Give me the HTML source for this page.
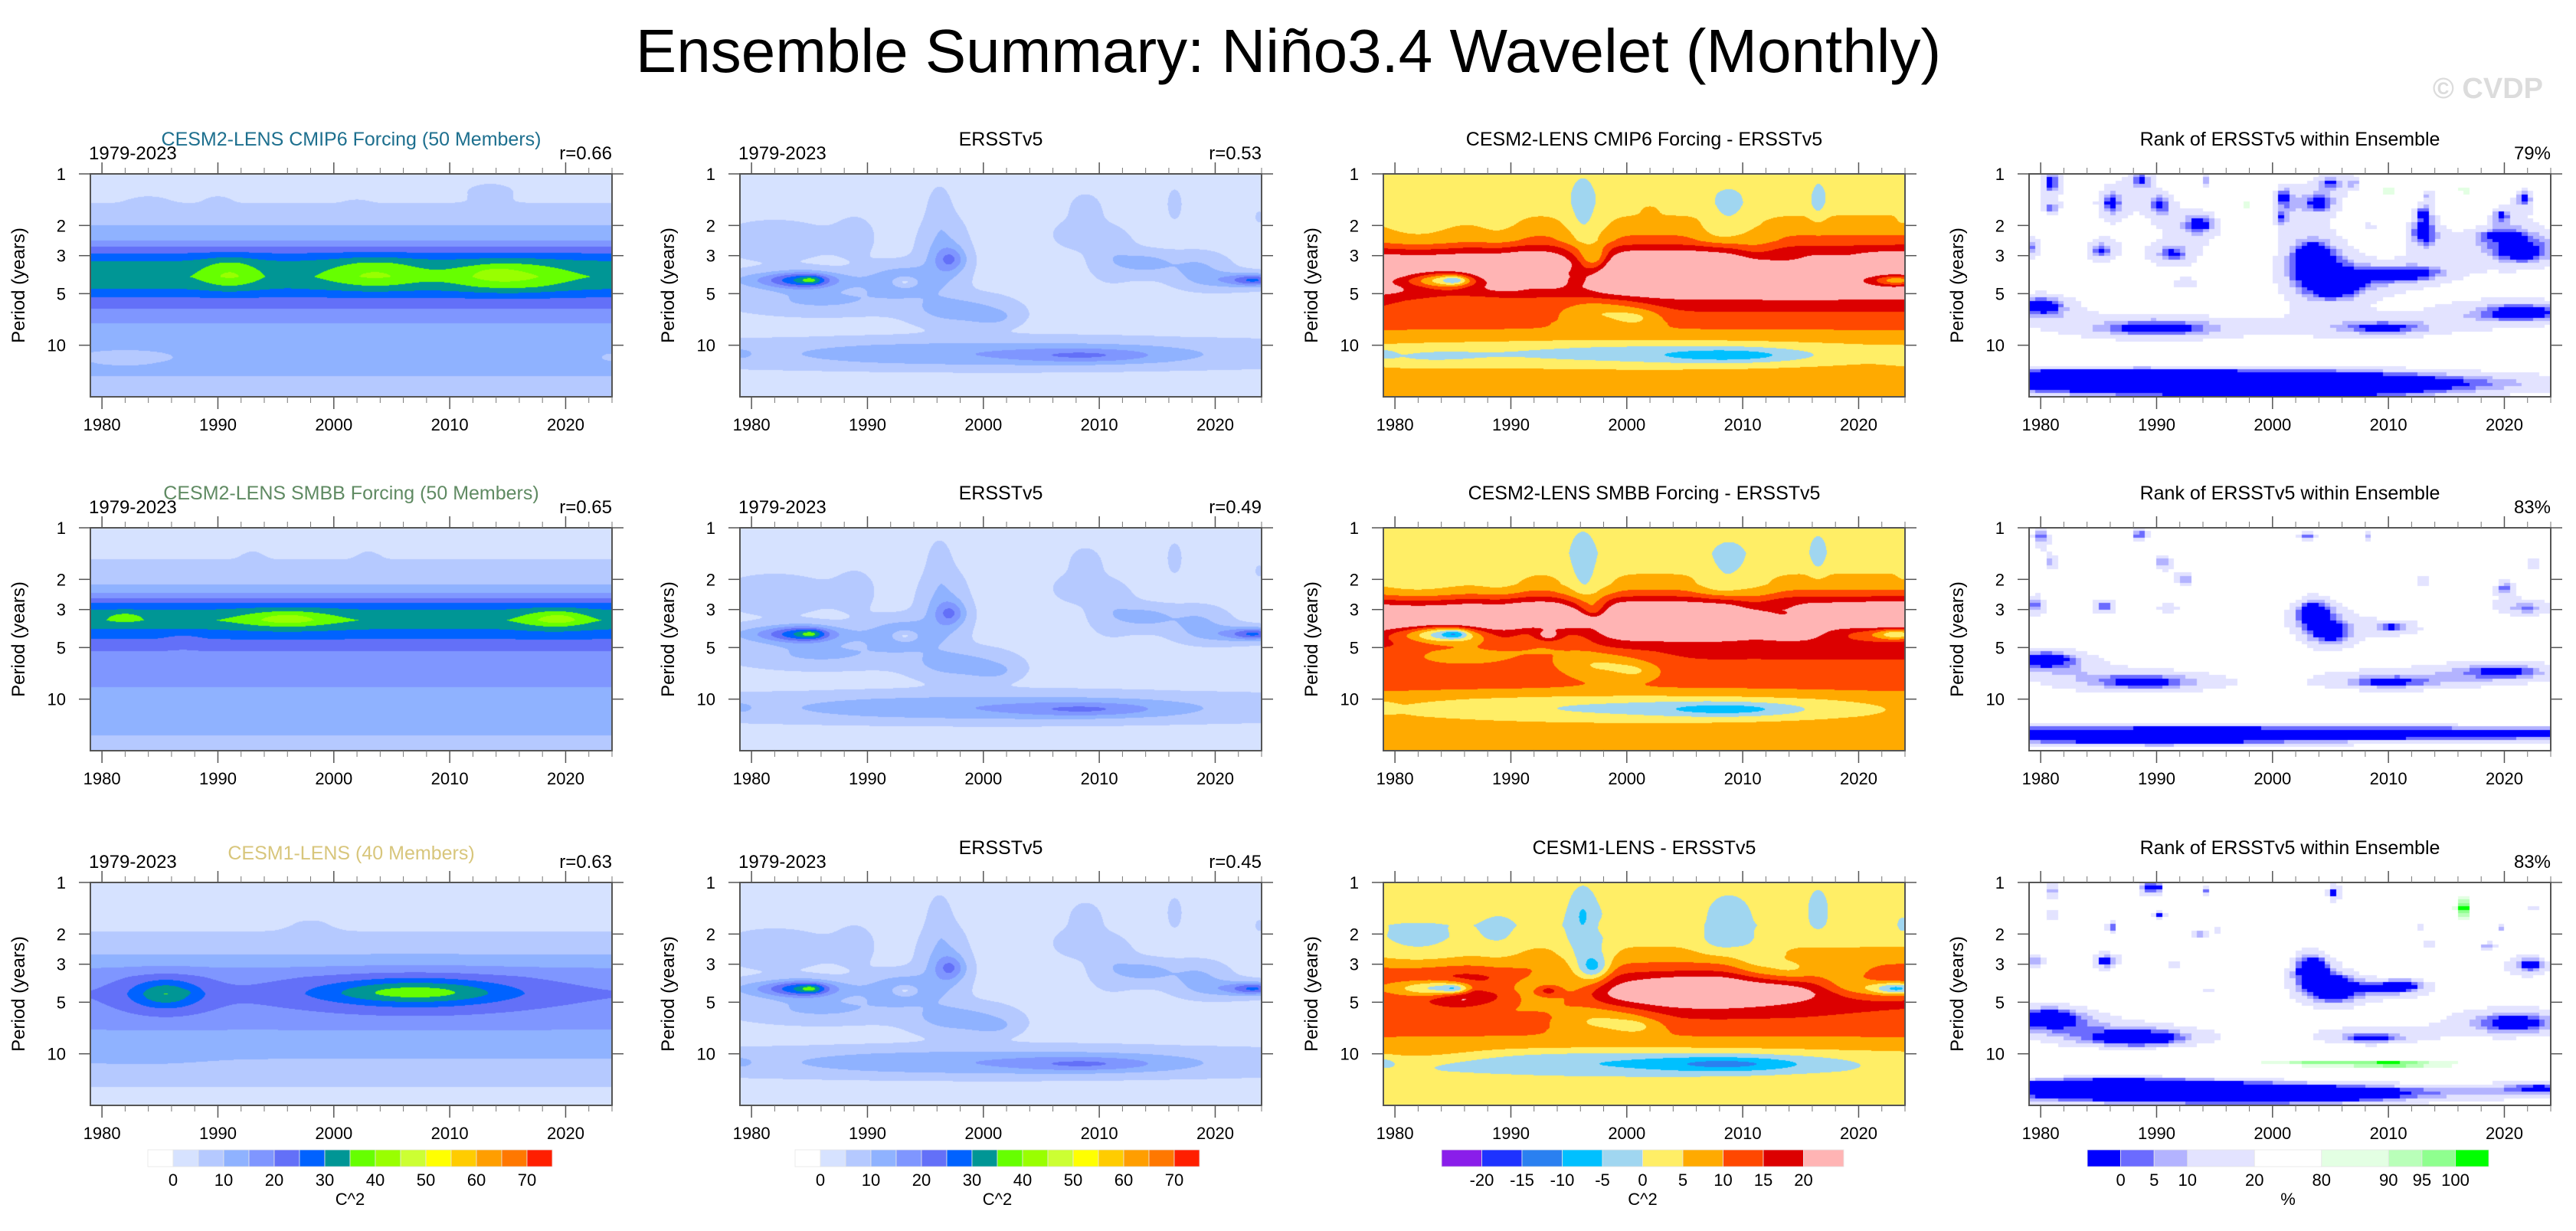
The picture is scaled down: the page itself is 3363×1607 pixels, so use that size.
<!DOCTYPE html>
<html>
<head>
<meta charset="utf-8">
<style>
html,body{margin:0;padding:0;background:#fff;}
#root{position:relative;width:3363px;height:1607px;overflow:hidden;background:#fff;font-family:"Liberation Sans",sans-serif;}
canvas{position:absolute;}
#overlay{position:absolute;left:0;top:0;}
</style>
</head>
<body>
<div id="root">
<svg id="overlay" width="3363" height="1607">
  <text x="1682" y="94" text-anchor="middle" font-size="80" font-family="Liberation Sans, sans-serif">Ensemble Summary: Niño3.4 Wavelet (Monthly)</text>
  <text x="3320" y="128" text-anchor="end" font-size="38" font-weight="bold" fill="#dcdcdc" font-family="Liberation Sans, sans-serif">© CVDP</text>
</svg>
</div>
<script>
// ---------------- axis data ----------------
const yearMin = 1979, yearMax = 2024;
const lpMax = Math.log10(20);
const majorYears = [1980, 1990, 2000, 2010, 2020];
const minorYears = [1982,1984,1986,1988,1992,1994,1996,1998,2002,2004,2006,2008,2012,2014,2016,2018,2022,2024];
const periodTicks = [1, 2, 3, 5, 10];

// ---------------- color scales ----------------
const ampLevels = [0,5,10,15,20,25,30,35,40,45,50,55,60,65,70];
const ampColors = ['#ffffff','#d6e2ff','#b5c9ff','#8fb2ff','#7f96ff','#6370f8','#0062ff','#009695','#66ff00','#99ff00','#ccff33','#ffff00','#ffcc00','#ff9e00','#ff7800','#ff1f00'];
const ampLabels = ['0','10','20','30','40','50','60','70'];
const diffLevels = [-20,-15,-10,-5,0,5,10,15,20];
const diffColors = ['#8a1eea','#1e32ff','#2a80f0','#00c0ff','#a0d6f0','#ffee66','#ffaa00','#ff4800','#dc0000','#ffb4b4'];
const diffLabels = ['-20','-15','-10','-5','0','5','10','15','20'];
const rankLevels = [0,5,10,20,80,90,95,100];
const rankColors = ['#0000ff','#6b6bff','#b3b3ff','#e3e3ff','#ffffff','#e3ffe3','#b9ffb9','#8fff8f','#00ff00'];
const rankLabels = ['0','5','10','20','80','90','95','100'];

// ---------------- field data (log10 period profiles + blobs [year, log10P, amp, widthYears, widthLog]) ----------------
const cmip6LpKnots = [0,.12,.17,.3,.39,.44,.48,.52,.6,.66,.7,.74,.8,.87,.95,1.0,1.1,1.17,1.2,1.3];
const cmip6Val     = [3,4,5,10,15,22,27,31,34,31,27,23,19,15,13,12.5,12.5,11,8,7];
const cmip6Blobs = [[1991,.58,7,2.5,.09],[2003.5,.58,7,4,.09],[2015,.6,8,5,.09],[2014,.58,4,1.5,.03],[1982,1.07,-4,6,.06],[2024,1.07,-3,2,.05],[1984,.17,2,1.5,.04],[1990,.17,2,1,.04],[2002,.2,2,1,.04],[2013.5,.1,3,2,.05],[1996,.6,-2,1.5,.05]];

const smbbLpKnots = [0,.15,.2,.33,.38,.41,.44,.48,.54,.59,.65,.72,.8,.93,1.0,1.1,1.21,1.3];
const smbbVal     = [3,4,5.5,10,15,20,25,30,34,30,25,20,18,15,14,13,10,8];
const smbbBlobs = [[1982,.52,5,1.5,.03],[1996,.53,7,4.5,.06],[1996,.53,3,2,.03],[2019,.53,7,3,.06],[2019.5,.53,3,1.5,.03],[1987,.66,-3,1.5,.04],[1993,.17,2,1,.04],[2003,.17,2,1,.04]];

const cesm1LpKnots = [0,.25,.32,.42,.5,.55,.65,.79,.86,.95,1.03,1.12,1.18,1.2,1.3];
const cesm1Val     = [3,4,6,10,15,18,20,18,15,12.5,10,8,6,4.5,3];
const cesm1Blobs = [[1985.5,.65,12,3.5,.1],[1985.5,.65,3,2,.06],[1987,.64,3,.6,.012],[2007,.64,13,9,.1],[2007,.64,5,7,.05],[1983,1.0,3,5,.05],[1998,.26,2,2,.05]];

const ersstLpKnots = [0,.15,.3,.5,.7,.85,.95,1.0,1.1,1.15,1.2,1.3];
const ersstVal     = [2,2.5,3,3.5,4,3.5,4,5.5,5.5,4,2.5,2];
const ersstBlobs = [[1983.5,.62,14,5,.05],[1984.5,.62,12,2.5,.05],[1985.2,.62,9,1,.025],[1993,.62,11,3,.09],[1993.2,.63,-11,1.2,.035],[1997.2,.5,11,1.3,.07],[1996.5,.45,8,2,.22],[1996.2,.18,5,.9,.12],[1986,.74,7,7,.08],[1998,.8,9,4,.08],[2001,.84,5,2,.05],[2014,.52,8,2.5,.07],[2018.5,.55,7,2.5,.09],[2011,.45,5,2,.15],[2023.5,.62,18,2,.035],[2021,.62,8,3,.05],[2008.8,.2,5,1.5,.1],[2008,.35,5,2,.08],[2016.5,.17,5,.7,.1],[2023.8,.25,4,.4,.04],[1982,.38,5,5,.12],[1989,.35,3,2,.15],[2001,1.05,9,20,.08],[2009,1.06,8,6,.04],[1979,1.05,4,1,.03]];

const rankBase = 40;
const rankWidthScale = 1.6;
const rankNegScale = 1.0;
const rankPosScale = 1.4;
const rank1Blobs = [[1980.9,.05,-55,.6,.05],[1986.1,.17,-50,.8,.06],[1980.9,.2,-40,.4,.02],[1988.7,.03,-45,.6,.04],[1990.3,.18,-45,.6,.04],[1994.3,.04,-40,.4,.03],[1993.8,.29,-55,1.2,.05],[1991.4,.47,-45,1.2,.04],[1985.2,.45,-45,.8,.04],[1979.3,.43,-40,.6,.05],[1992.5,.64,-25,1,.03],[2003.5,.5,-70,1.3,.08],[2005.3,.65,-55,1.2,.04],[2012,.58,-45,1.5,.02],[2009.8,.6,-25,3,.06],[2021.5,.46,-55,2,.05],[2019.5,.36,-35,2.5,.04],[2013,.35,-45,.7,.05],[2013,.23,-45,.6,.04],[2008.5,.3,-25,.5,.02],[2000.8,.26,-30,.4,.04],[2000.9,.13,-45,.5,.04],[2004,.17,-50,1,.04],[2005,.05,-45,.8,.03],[2007.1,.05,-40,.4,.03],[2013.5,.12,-45,.5,.03],[2018.5,.03,-40,.3,.03],[2021.7,.14,-50,.6,.04],[2019.7,.24,-45,.6,.03],[1997.8,.18,40,.8,.06],[2010.1,.1,42,1,.06],[2016.6,.1,40,1,.06],[1980,.77,-60,1.5,.04],[1990,.9,-60,4,.04],[2009.6,.9,-45,3,.03],[2021.5,.81,-60,3,.04],[1984,1.06,32,5,.015],[2015,1.06,32,4,.015],[1983,1.19,-65,4,.02],[1990,1.22,-45,8,.04],[2005,1.23,-50,6,.04],[2000,1.25,-40,4,.02],[2000,1.22,-25,30,.04]];
const rank2Blobs = [[1980,.05,-50,.5,.04],[1981,.2,-40,.4,.03],[1988.5,.04,-50,.5,.03],[1990.5,.2,-45,.5,.03],[1992.5,.3,-40,.6,.03],[1996,.22,-35,.5,.03],[2003,.05,-50,.6,.03],[2008.3,.05,-45,.4,.03],[2009,.17,-40,.5,.03],[2013,.3,-45,.5,.03],[2017,.05,-45,.4,.03],[2020,.35,-45,.5,.03],[2022.5,.2,-40,.4,.03],[1979.5,.45,-50,.6,.04],[1985.5,.46,-45,.8,.03],[1991,.47,-30,1,.03],[2003.5,.5,-65,1.2,.06],[2005,.62,-45,1,.04],[2010.5,.58,-45,1.5,.03],[2022,.47,-40,2,.04],[1980.5,.77,-60,2,.04],[1989,.9,-55,4,.04],[2010,.9,-45,3,.03],[2020,.84,-50,3.5,.04],[1998.5,.2,30,1,.08],[2010,.12,32,1,.06],[2016.5,.12,30,.8,.06],[2012,1.07,32,8,.02],[2000,1.2,-55,40,.02],[1990,1.24,-40,6,.02],[2000,1.2,-25,30,.04]];
const rank3Blobs = [[1981,.05,-45,.4,.04],[1989.2,.03,-50,.5,.03],[1990.2,.03,-40,.3,.02],[1994.3,.05,-45,.4,.02],[2005.3,.06,-55,.5,.04],[2007.5,.05,-40,.3,.02],[2013.6,.12,-45,.4,.02],[2018.5,.03,-40,.3,.02],[2022.5,.15,-45,.4,.02],[1981,.2,-45,.3,.02],[1986.2,.26,-45,.4,.03],[1990.3,.19,-45,.4,.02],[1993.6,.3,-45,.6,.02],[1995.3,.28,-40,.3,.02],[2001,.28,-30,.5,.03],[2012.7,.26,-45,.4,.02],[2019.7,.26,-45,.4,.02],[2013.5,.36,-45,.5,.02],[2018.5,.37,-45,.5,.02],[1979.5,.46,-45,.6,.03],[1985.6,.46,-55,.8,.03],[1991.5,.48,-30,.6,.03],[2003.3,.5,-70,1,.06],[2005.3,.62,-60,1,.04],[2009,.62,-30,3,.04],[2011.3,.6,-50,1,.02],[2022.3,.48,-55,1.3,.04],[1994.5,.63,-30,.5,.02],[1980.5,.79,-70,2,.04],[1988.5,.91,-70,3.5,.04],[2008.5,.91,-50,2.5,.03],[2021,.82,-60,3,.05],[1998,.25,35,1,.12],[2010,.15,30,1.5,.1],[2016.5,.15,45,.8,.08],[2016.5,.15,12,.3,.03],[2024,.3,30,.5,.05],[2011,1.06,40,5,.02],[2003,1.05,32,10,.03],[1984,1.06,32,4,.015],[1986,1.19,-70,3.5,.02],[2002,1.24,-70,4,.02],[1990,1.22,-50,7,.04],[2023,1.2,-35,2,.02],[2000,1.22,-25,30,.04]];

// ---------------- panel text data ----------------
const modelTitles = ['CESM2-LENS CMIP6 Forcing (50 Members)','CESM2-LENS SMBB Forcing (50 Members)','CESM1-LENS (40 Members)'];
const modelTitleColors = ['#1d6f8e','#5f8a62','#d8c67c'];
const modelR = ['r=0.66','r=0.65','r=0.63'];
const obsR = ['r=0.53','r=0.49','r=0.45'];
const diffTitles = ['CESM2-LENS CMIP6 Forcing - ERSSTv5','CESM2-LENS SMBB Forcing - ERSSTv5','CESM1-LENS - ERSSTv5'];
const rankPct = ['79%','83%','83%'];

// ---------------- layout ----------------
const colX = [118, 966, 1806, 2649];
const rowY = [227, 689, 1152];
const PW = 681, PH = 291;

function xOf(left, year){ return left + (year - yearMin) / (yearMax - yearMin) * PW; }
function yOf(top, lp){ return top + lp / lpMax * PH; }

function profileAt(knots, vals, lp){
  if (lp <= knots[0]) return vals[0];
  for (let i = 1; i < knots.length; i++){
    if (lp <= knots[i]){ const f = (lp-knots[i-1])/(knots[i]-knots[i-1]); return vals[i-1] + f*(vals[i]-vals[i-1]); }
  }
  return vals[vals.length-1];
}
function blobSum(blobs, t, lp){
  let s = 0;
  for (const b of blobs){ const dt=(t-b[0])/b[3], dl=(lp-b[1])/b[4]; s += b[2]*Math.exp(-dt*dt-dl*dl); }
  return s;
}
// rank blobs use an exponential (Laplacian) kernel: small cores, wider halos
function rankSum(blobs, t, lp){
  let s = 0;
  for (const b of blobs){
    const dt=(t-b[0])/(b[3]*rankWidthScale), dl=(lp-b[1])/(b[4]*rankWidthScale);
    s += (b[2]<0?rankNegScale:rankPosScale)*b[2]*Math.exp(-Math.sqrt(dt*dt+dl*dl));
  }
  return s;
}
function makeField(knots, vals, blobs){ return (t, lp) => profileAt(knots, vals, lp) + blobSum(blobs, t, lp); }
const fCmip6 = makeField(cmip6LpKnots, cmip6Val, cmip6Blobs);
const fSmbb = makeField(smbbLpKnots, smbbVal, smbbBlobs);
const fCesm1 = makeField(cesm1LpKnots, cesm1Val, cesm1Blobs);
const fErsst = makeField(ersstLpKnots, ersstVal, ersstBlobs);
const modelFields = [fCmip6, fSmbb, fCesm1];
const rankBlobSets = [rank1Blobs, rank2Blobs, rank3Blobs];

function hexRgb(h){ return [parseInt(h.substr(1,2),16), parseInt(h.substr(3,2),16), parseInt(h.substr(5,2),16)]; }
function binOf(levels, v){ let i=0; while(i<levels.length && v>=levels[i]) i++; return i; }

const root = document.getElementById('root');
function drawField(left, top, name, fn, levels, colors, blocky){
  const c = document.createElement('canvas');
  c.width = PW; c.height = PH;
  c.style.left = left + 'px'; c.style.top = top + 'px';
  
  
  root.insertBefore(c, document.getElementById('overlay'));
  const ctx = c.getContext('2d');
  const img = ctx.createImageData(PW, PH);
  const rgb = colors.map(hexRgb);
  for (let py=0; py<PH; py++){
    for (let px=0; px<PW; px++){
      let t = yearMin + (px+0.5)/PW*(yearMax-yearMin);
      let lp = (py+0.5)/PH*lpMax;
      if (blocky){ t = Math.floor(t*2)/2 + 0.25; lp = Math.floor(lp/0.02)*0.02 + 0.01; }
      const col = rgb[binOf(levels, fn(t, lp))];
      const k = (py*PW+px)*4;
      img.data[k]=col[0]; img.data[k+1]=col[1]; img.data[k+2]=col[2]; img.data[k+3]=255;
    }
  }
  ctx.putImageData(img, 0, 0);
}

const NS = 'http://www.w3.org/2000/svg';
const svg = document.getElementById('overlay');
function mk(tag, attrs, parent){ const e=document.createElementNS(NS,tag); for (const k in attrs) e.setAttribute(k, attrs[k]); (parent||svg).appendChild(e); return e; }
function txt(str, attrs, parent){ const e = mk('text', attrs, parent); e.textContent = str; return e; }

function drawAxes(left, top, withPeriodLabel){
  const g = mk('g', {});
  
  
  const fr = mk('rect', {x:left, y:top, width:PW, height:PH, fill:'none', stroke:'#555', 'stroke-width':2}, g);
  
  
  for (const yr of majorYears){
    const x = xOf(left, yr);
    const t1 = mk('line', {x1:x, x2:x, y1:top, y2:top-15, stroke:'#555', 'stroke-width':1.5}, g);
    
    
    const t2 = mk('line', {x1:x, x2:x, y1:top+PH, y2:top+PH+16, stroke:'#555', 'stroke-width':1.5}, g);
    
    
    const lb = txt(String(yr), {x:x, y:top+PH+44, 'text-anchor':'middle', 'font-size':22}, g);
    
    
  }
  for (const yr of minorYears){
    const x = xOf(left, yr);
    const t1 = mk('line', {x1:x, x2:x, y1:top, y2:top-8, stroke:'#777', 'stroke-width':1}, g);
    
    
    const t2 = mk('line', {x1:x, x2:x, y1:top+PH, y2:top+PH+8, stroke:'#777', 'stroke-width':1}, g);
    
    
  }
  for (const p of periodTicks){
    const y = yOf(top, Math.log10(p));
    const t1 = mk('line', {x1:left-15, x2:left, y1:y, y2:y, stroke:'#555', 'stroke-width':1.5}, g);
    
    
    const t2 = mk('line', {x1:left+PW, x2:left+PW+15, y1:y, y2:y, stroke:'#555', 'stroke-width':1.5}, g);
    
    
    const lb = txt(String(p), {x:left-32, y:y+8, 'text-anchor':'end', 'font-size':22}, g);
    
    
  }
  if (withPeriodLabel){
    const cy = top + PH/2;
    const yl = txt('Period (years)', {x:left-86, y:cy, 'text-anchor':'middle', 'font-size':24, transform:'rotate(-90 '+(left-86)+' '+cy+')'}, g);
    
    
  }
}

function panelText(left, top, center, centerColor, leftStr, rightStr, centerDy){
  if (center){
    const t = txt(center, {x:left+PW/2, y:top-(centerDy||37), 'text-anchor':'middle', 'font-size':25, fill:centerColor||'#000'});
    
    
  }
  if (leftStr){
    const t = txt(leftStr, {x:left-2, y:top-19, 'font-size':24});
    
    
  }
  if (rightStr){
    const t = txt(rightStr, {x:left+PW, y:top-19, 'text-anchor':'end', 'font-size':24});
    
    
  }
}

for (let r=0; r<3; r++){
  const top = rowY[r];
  const mf = modelFields[r];
  drawField(colX[0], top, 'model-wavelet-field', mf, ampLevels, ampColors, false);
  drawField(colX[1], top, 'obs-wavelet-field', fErsst, ampLevels, ampColors, false);
  drawField(colX[2], top, 'difference-field', (t,lp)=>mf(t,lp)-fErsst(t,lp), diffLevels, diffColors, false);
  const rb = rankBlobSets[r];
  drawField(colX[3], top, 'rank-field', (t,lp)=>rankBase+rankSum(rb,t,lp), rankLevels, rankColors, true);
  for (let c=0; c<4; c++) drawAxes(colX[c], top, true);
  panelText(colX[0], top, modelTitles[r], modelTitleColors[r], '1979-2023', modelR[r], r===2 ? 30 : 37);
  panelText(colX[1], top, 'ERSSTv5', '#000', '1979-2023', obsR[r]);
  panelText(colX[2], top, diffTitles[r], '#000', null, null);
  panelText(colX[3], top, 'Rank of ERSSTv5 within Ensemble', '#000', null, rankPct[r]);
}

// ---------------- colorbars ----------------
function colorbar(x0, widths, colors, labels, unit, name){
  const g = mk('g', {});
  
  
  const y0 = 1501, h = 22;
  let x = x0; const bounds = [x0];
  for (let i=0; i<colors.length; i++){
    const r = mk('rect', {x:x, y:y0, width:widths[i], height:h, fill:colors[i], stroke:'#e6e6e6', 'stroke-width':0.8}, g);
    
    
    x += widths[i]; bounds.push(x);
  }
  return {g, bounds, y0, h, x0, x1:x};
}
function ampBar(x0, name){
  const w = (721-193)/ampColors.length;
  const cb = colorbar(x0, ampColors.map(()=>w), ampColors, ampLabels, 'C^2', name);
  for (let i=0; i<ampLabels.length; i++){
    const t = txt(ampLabels[i], {x:cb.bounds[1+2*i], y:1548, 'text-anchor':'middle', 'font-size':22}, cb.g);
    
    
  }
  const u = txt('C^2', {x:(cb.x0+cb.x1)/2, y:1573, 'text-anchor':'middle', 'font-size':22}, cb.g);
  
  
}
ampBar(193, 'model-colorbar');
ampBar(1038, 'obs-colorbar');
(function(){
  const w = (2407-1882)/diffColors.length;
  const cb = colorbar(1882, diffColors.map(()=>w), diffColors, diffLabels, 'C^2', 'difference-colorbar');
  for (let i=0; i<diffLabels.length; i++){
    const t = txt(diffLabels[i], {x:cb.bounds[1+i], y:1548, 'text-anchor':'middle', 'font-size':22}, cb.g);
    
    
  }
  const u = txt('C^2', {x:(cb.x0+cb.x1)/2, y:1573, 'text-anchor':'middle', 'font-size':22}, cb.g);
  
  
})();
(function(){
  const s = 43.6, L = 87.5;
  const widths = [s,s,s,L,L,L,s,s,s];
  const cb = colorbar(2725, widths, rankColors, rankLabels, '%', 'rank-colorbar');
  for (let i=0; i<rankLabels.length; i++){
    const t = txt(rankLabels[i], {x:cb.bounds[1+i], y:1548, 'text-anchor':'middle', 'font-size':22}, cb.g);
    
    
  }
  const u = txt('%', {x:(cb.bounds[4]+cb.bounds[5])/2, y:1573, 'text-anchor':'middle', 'font-size':22}, cb.g);
  
  
})();
</script>
</body>
</html>
